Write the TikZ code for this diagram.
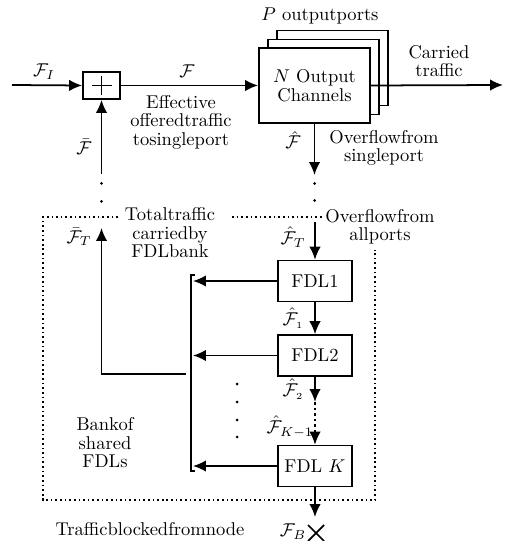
\documentclass[tikz,border=0pt]{standalone}
\usetikzlibrary{arrows.meta}
\begin{document}
\begin{tikzpicture}[x=0.54pt,y=-0.54pt,
  every node/.style={font=\fontsize{10}{10}\selectfont, inner sep=0pt, align=center},
  ln/.style={line width=0.95pt},
  arr/.style={line width=0.95pt, -{Latex[length=7pt,width=6.2pt]}},
  box/.style={draw, line width=0.95pt, fill=white},
  dotl/.style={line width=0.9pt, dash pattern=on 0.9pt off 1.6pt},
  dashl/.style={line width=0.95pt, dash pattern=on 1.4pt off 1.6pt, -{Latex[length=7pt,width=6.2pt]}}
]
\useasboundingbox (0,0) rectangle (504,541);

% top row
\coordinate (in) at (12,85);
\node[box, minimum width=20pt, minimum height=14.6pt] (plus) at (101.5,85.5) {};
\draw[line width=0.7pt] ([shift={(-10,0)}]plus.center) -- ([shift={(10,0)}]plus.center);
\draw[line width=0.7pt] ([shift={(0,-9.5)}]plus.center) -- ([shift={(0,9.5)}]plus.center);

\node[box, minimum width=60pt, minimum height=40.5pt] (ch3) at (332.5,68) {};
\node[box, minimum width=60pt, minimum height=40.5pt] (ch2) at (323.5,77) {};
\node[box, minimum width=60pt, minimum height=40.5pt] (ch) at (314.5,85.5) {$N$ Output\\Channels};
\coordinate (out) at (503,85);

\draw[arr] (in) -- (plus.west);
\draw[arr] (plus.east) -- (ch.west |- plus.east);
\draw[arr] (ch.east |- plus.east) -- (out);

\node (fi) at (44,72) {$\mathcal{F}_I$};
\node (fl) at (187,71) {$\mathcal{F}$};
\node (eff) at (181,122) {Effective\\offeredtraffic\\tosingleport};
\node (pout) at (320,16) {$P$ outputports};
\node (carr) at (439,61) {Carried\\traffic};

% overflow from single port
\coordinate (ov) at (314.5,175);
\draw[arr] (ch.south) -- (ov);
\node (fh) at (293,140) {$\hat{\mathcal{F}}$};
\node (ovs) at (384,148) {Overflowfrom\\singleport};
\fill (314.5,183.5) circle (1.5);
\fill (314.5,200.5) circle (1.5);

% feedback to plus
\coordinate (fb) at (101.5,174);
\draw[arr] (fb) -- (plus.south);
\node (fbar) at (84,147) {$\bar{\mathcal{F}}$};
\fill (101.5,183.5) circle (1.5);
\fill (101.5,201.5) circle (1.5);

% dotted box
\draw[dotl] (118,217) -- (43,217) -- (43,500) -- (375,500) -- (375,250);
\draw[dotl] (232,217) -- (323,217);
\node (tot) at (170,233) {Totaltraffic\\carriedby\\FDLbank};
\node (ova) at (380,227) {Overflowfrom\\allports};

% FDL chain
\node[box, minimum width=40pt, minimum height=22.1pt] (fdl1) at (315,281) {FDL1};
\node[box, minimum width=40pt, minimum height=22.1pt] (fdl2) at (315,355.5) {FDL2};
\node[box, minimum width=40pt, minimum height=22.1pt] (fdlk) at (315,466) {FDL $K$};
\coordinate (ft) at (315,222);
\coordinate (mid) at (315,402);
\coordinate (blk) at (315,517);
\draw[arr] (ft) -- (fdl1.north);
\draw[arr] (fdl1.south) -- (fdl2.north);
\draw[arr] (fdl2.south) -- (mid);
\draw[dashl] (mid) -- (fdlk.north);
\draw[arr] (fdlk.south) -- (blk);
\node (fht) at (293,237) {$\hat{\mathcal{F}}_T$};
\node (fh1) at (293,318) {$\hat{\mathcal{F}}_{\scriptscriptstyle 1}$};
\node (fh2) at (293,389) {$\hat{\mathcal{F}}_{\scriptscriptstyle 2}$};
\node (fhk) at (290,427) {$\hat{\mathcal{F}}_{K{-}1}$};

% bracket and return arrows
\coordinate (bt) at (195,275);
\coordinate (bb) at (195,471);
\draw[ln] (bt) -- (191,275) -- (191,471) -- (bb);
\coordinate (b1) at (193,281);
\coordinate (b2) at (193,355.5);
\coordinate (b3) at (193,466);
\draw[arr] (fdl1.west) -- (b1);
\draw[arr] (fdl2.west) -- (b2);
\draw[arr] (fdlk.west) -- (b3);
\foreach \yy in {384,402,420,437} \fill (237,\yy) circle (1.5);

% total carried arrow
\coordinate (tc0) at (186,374);
\coordinate (tc1) at (101.5,374);
\coordinate (tc2) at (101.5,228);
\draw[arr] (tc0) -- (tc1) -- (tc2);
\node (fbt) at (79,237) {$\bar{\mathcal{F}}_T$};

\node (bank) at (105,443) {Bankof\\shared\\FDLs};

% blocked
\coordinate (xc) at (316,533);
\draw[line width=0.95pt] ([shift={(-8,-8)}]xc) -- ([shift={(8,8)}]xc);
\draw[line width=0.95pt] ([shift={(-8,8)}]xc) -- ([shift={(8,-8)}]xc);
\node (fb2) at (293,532) {$\mathcal{F}_B$};
\node (tb) at (150,529) {Trafficblockedfromnode};
\end{tikzpicture}
\end{document}
